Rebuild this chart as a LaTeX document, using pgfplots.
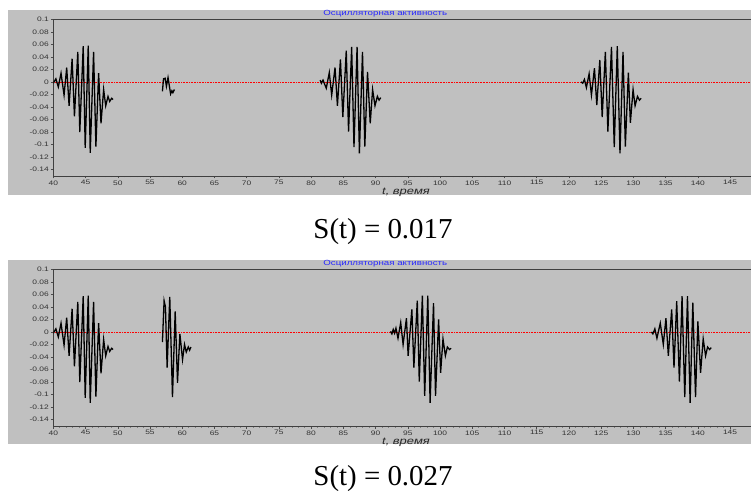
\documentclass[border=0pt]{standalone}
\usepackage{fontspec}
\usepackage{pgfplots}
\pgfplotsset{compat=1.18}
\setmainfont{Liberation Serif}
\newfontfamily\wsans[FakeStretch=1.3]{Liberation Sans}
\definecolor{panelgray}{RGB}{192,192,192}
\definecolor{titleblue}{RGB}{40,40,255}
\pgfplotsset{osc/.style={
  scale only axis, width=709bp, height=156.7bp,
  xmin=40, xmax=150, ymin=-0.15, ymax=0.1,
  xtick={40,45,50,55,60,65,70,75,80,85,90,95,100,105,110,115,120,125,130,135,140,145},
  minor x tick num=4,
  ytick={-0.14,-0.12,-0.1,-0.08,-0.06,-0.04,-0.02,0,0.02,0.04,0.06,0.08,0.1},
  yticklabels={-0.14,-0.12,-0.1,-0.08,-0.06,-0.04,-0.02,0,0.02,0.04,0.06,0.08,0.1},
  /pgf/number format/assume math mode=true,
  tick label style={font=\wsans\fontsize{6.5}{7.5}\selectfont, text=black!80},
  xtick pos=bottom, ytick pos=left, tick align=outside,
  major tick length=2.5bp, minor tick length=1.5bp,
  every tick/.style={black!70, line width=0.5bp},
  every minor tick/.style={black!50, line width=0.5bp},
  axis line style={draw=black!75, line width=0.9bp},
  xticklabel style={yshift=1.5bp},
  yticklabel style={xshift=1.5bp},
  signal/.style={black, line width=1.3bp},
  zero/.style={red, line width=0.6bp, densely dotted},
}}
\begin{document}
\begin{tikzpicture}
\path[use as bounding box] (0,0) rectangle (751bp,491bp);
\fill[white] (0,0) rectangle (751bp,491bp);
\fill[panelgray] (8bp,296bp) rectangle (770bp,481bp);
\fill[panelgray] (8bp,46.7bp) rectangle (770bp,231bp);

% ---------- panel 1 ----------
\begin{axis}[osc, at={(53.3bp,315bp)}, anchor=south west]
\addplot[zero] coordinates {(40,0) (150,0)};
\addplot[signal] coordinates {(40.0,-0.002) (40.4,0.005) (40.78,-0.008) (41.2,0.014) (41.67,-0.021) (42.08,0.023) (42.45,-0.038) (42.92,0.037) (43.28,-0.055) (43.8,0.048) (44.11,-0.080) (44.64,0.057) (44.95,-0.105) (45.42,0.058) (45.73,-0.113) (46.25,0.048) (46.61,-0.103) (47.03,0.014) (47.4,-0.066) (47.81,-0.012) (48.13,-0.038) (48.49,-0.023) (48.75,-0.031) (49.06,-0.026) (49.27,-0.028)};
\addplot[signal] coordinates {(56.93,-0.015) (57.1,0.005) (57.35,0.006) (57.55,-0.007) (57.8,0.007) (58.2,-0.019) (58.4,-0.014) (58.55,-0.017) (58.8,-0.012)};
\addplot[signal] coordinates {(81.4,0.003) (81.6,-0.002) (81.85,0.003) (82.35,-0.010) (82.82,0.015) (83.19,-0.021) (83.71,0.023) (84.08,-0.038) (84.55,0.036) (84.92,-0.056) (85.45,0.050) (85.81,-0.079) (86.29,0.056) (86.65,-0.104) (87.13,0.056) (87.49,-0.114) (87.97,0.048) (88.33,-0.103) (88.75,0.016) (89.17,-0.066) (89.54,-0.012) (89.91,-0.038) (90.28,-0.023) (90.54,-0.029) (90.8,-0.025)};
\addplot[signal] coordinates {(121.88,0.0) (122.14,-0.002) (122.40,0.004) (122.71,-0.009) (123.13,0.013) (123.49,-0.021) (123.96,0.022) (124.32,-0.037) (124.79,0.035) (125.16,-0.056) (125.65,0.048) (126.04,-0.079) (126.6,0.056) (127.03,-0.104) (127.5,0.057) (127.92,-0.114) (128.39,0.048) (128.75,-0.103) (129.22,0.015) (129.53,-0.065) (129.95,-0.012) (130.26,-0.038) (130.63,-0.023) (130.94,-0.029) (131.2,-0.026)};
\end{axis}

% ---------- panel 2 ----------
\begin{axis}[osc, at={(53.3bp,65bp)}, anchor=south west]
\addplot[zero] coordinates {(40,0) (150,0)};
\addplot[signal] coordinates {(40.0,-0.002) (40.4,0.005) (40.78,-0.008) (41.2,0.014) (41.67,-0.021) (42.08,0.023) (42.45,-0.038) (42.92,0.037) (43.28,-0.055) (43.8,0.048) (44.11,-0.080) (44.64,0.057) (44.95,-0.105) (45.42,0.058) (45.73,-0.113) (46.25,0.048) (46.61,-0.103) (47.03,0.014) (47.4,-0.066) (47.81,-0.012) (48.13,-0.038) (48.49,-0.023) (48.75,-0.031) (49.06,-0.026) (49.27,-0.028)};
\addplot[signal] coordinates {(56.93,-0.016) (57.19,0.050) (57.40,0.040) (57.66,-0.057) (58.07,0.056) (58.49,-0.104) (58.91,0.033) (59.27,-0.081) (59.64,-0.003) (60.05,-0.044) (60.36,-0.020) (60.63,-0.032) (60.94,-0.024) (61.15,-0.029) (61.35,-0.024)};
\addplot[signal] coordinates {(92.32,0.001) (92.53,-0.003) (92.74,0.004) (92.95,-0.002) (93.16,0.006) (93.48,-0.010) (93.90,0.015) (94.27,-0.020) (94.79,0.022) (95.05,-0.038) (95.63,0.036) (95.94,-0.057) (96.47,0.050) (96.78,-0.079) (97.26,0.058) (97.62,-0.102) (98.10,0.058) (98.46,-0.113) (98.99,0.046) (99.30,-0.102) (99.78,0.020) (100.09,-0.065) (100.46,-0.011) (100.83,-0.038) (101.14,-0.024) (101.46,-0.028) (101.72,-0.026)};
\addplot[signal] coordinates {(132.81,0.0) (133.02,-0.003) (133.33,0.005) (133.65,-0.010) (134.17,0.014) (134.64,-0.020) (135.05,0.022) (135.42,-0.038) (135.94,0.036) (136.30,-0.057) (136.72,0.049) (137.14,-0.079) (137.55,0.057) (137.97,-0.104) (138.39,0.057) (138.80,-0.113) (139.22,0.047) (139.64,-0.104) (140.0,0.017) (140.42,-0.065) (140.83,-0.011) (141.2,-0.038) (141.51,-0.024) (141.82,-0.028) (142.08,-0.025)};
\end{axis}

% titles and labels
\node[text=titleblue, font=\wsans\fontsize{7.5}{8.5}\selectfont, inner sep=0pt] at (385.3bp,477.3bp) {Осцилляторная активность};
\node[text=titleblue, font=\wsans\fontsize{7.5}{8.5}\selectfont, inner sep=0pt] at (385.3bp,227bp) {Осцилляторная активность};
\node[font=\wsans\itshape\fontsize{10}{11}\selectfont, inner sep=0pt, text=black!85] at (406bp,298.3bp) {t, время};
\node[font=\wsans\itshape\fontsize{10}{11}\selectfont, inner sep=0pt, text=black!85] at (406bp,48.3bp) {t, время};
\node[font=\fontsize{29}{32}\selectfont, anchor=base, inner sep=0pt] at (383bp,252bp) {S(t) = 0.017};
\node[font=\fontsize{29}{32}\selectfont, anchor=base, inner sep=0pt] at (383bp,6bp) {S(t) = 0.027};
\end{tikzpicture}
\end{document}
